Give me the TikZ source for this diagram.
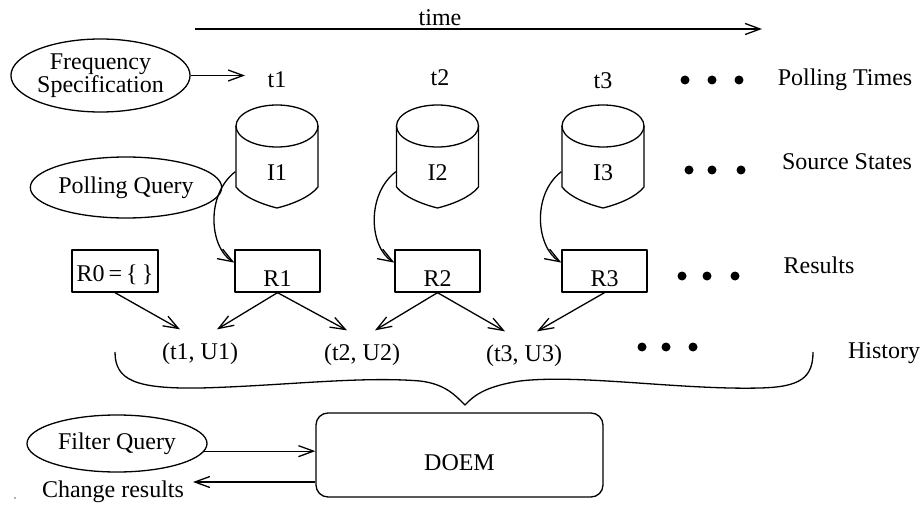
\documentclass[tikz,border=0pt]{standalone}
\usepackage{fontspec}
\setmainfont{Liberation Serif}
\usetikzlibrary{shapes.geometric,arrows.meta,calc}
\newcommand\mkcyl[3]{%
  \node[cylbox] (#1) at (#2,156.5) {};
  \node (#1lab) at (#2,173) {#3};
  \draw (#2,126) ellipse [x radius=41, y radius=21];
  \draw ({#2-41},126) -- ({#2-41},187) .. controls ({#2-33},197) and ({#2-16},204) .. (#2,208)
        .. controls ({#2+16},204) and ({#2+33},197) .. ({#2+41},187) -- ({#2+41},126);
}
\begin{document}
\begin{tikzpicture}[x=1pt,y=-1pt,line width=1.3pt,line join=round,
  >={Straight Barb[length=15pt,width=11pt]},
  every node/.style={font=\fontsize{24}{27}\selectfont, inner sep=0pt},
  oval/.style={draw, ellipse, inner sep=0pt},
  resbox/.style={draw, rectangle, minimum width=85pt, minimum height=42pt, text height=30pt, text depth=0pt},
  cylbox/.style={rectangle, minimum width=82pt, minimum height=103pt},
  hist/.style={text height=17pt, text depth=5pt, inner ysep=12pt}]
\useasboundingbox (0,0) rectangle (924,508);

% time axis
\coordinate (ts) at (195,29);
\coordinate (te) at (762,29);
\draw[->] (ts) -- (te);
\node (time) at (440,18) {time};

% frequency specification and polling times
\node[oval, minimum width=175pt, minimum height=73pt, align=center,
      font=\fontsize{24}{23}\selectfont] (FS) at (100.5,75.5) {Frequency\\Specification};
\node (t1) at (277,80) {t1};
\node (t2) at (440,78) {t2};
\node (t3) at (603,81) {t3};
\draw[->, shorten >=22pt] (FS.east) -- (FS.east -| t1.west);

% row labels
\node (pt)  at (845,80)  {Polling Times};
\node (ss)  at (847,162) {Source States};
\node (res) at (819,265) {Results};
\node (his) at (884,353) {History};

% polling query
\node[oval, minimum width=172pt, minimum height=61pt] (PQ) at (126,187.5) {Polling Query};

% source states
\mkcyl{I1}{277}{I1}
\mkcyl{I2}{437.5}{I2}
\mkcyl{I3}{603}{I3}

% results
\node[draw, minimum width=86pt, minimum height=42pt, text height=20pt, text depth=0pt] (R0) at (115,271) {R0\,=\,\{\,\}};
\node[resbox] (R1) at (277.5,271) {R1};
\node[resbox] (R2) at (437.5,271) {R2};
\node[resbox] (R3) at (604.5,271) {R3};

\draw[->] (I1.200) .. controls +(-30,23) and +(-25,-15) .. (R1.169);
\draw[->] (I2.200) .. controls +(-30,23) and +(-25,-15) .. (R2.169);
\draw[->] (I3.200) .. controls +(-30,23) and +(-25,-15) .. (R3.169);

% history
\node[hist] (u1) at (200,353) {(t1, U1)};
\node[hist] (u2) at (362,354) {(t2, U2)};
\node[hist] (u3) at (524,355) {(t3, U3)};

\draw[->] (R0.south) -- ([xshift=-20pt]u1.north);
\draw[->] (R1.south) -- ([xshift=17pt]u1.north);
\draw[->] (R1.south) -- ([xshift=-15pt]u2.north);
\draw[->] (R2.south) -- ([xshift=13pt]u2.north);
\draw[->] (R2.south) -- ([xshift=-19pt]u3.north);
\draw[->] (R3.south) -- ([xshift=13pt]u3.north);

% ellipsis dots
\foreach \x/\y in {685/80,712/80,739/80, 689/170,712/170,741/170,
                   682/276,707/276,735/276, 642/347,666/347,693/347}
  \fill (\x,\y) circle[radius=4.5];

% brace
\draw (115,352) .. controls (115,380) and (135,389) .. (200,388)
  .. controls (280,386) and (360,376) .. (420,381)
  .. controls (445,384) and (455,395) .. (465,405)
  .. controls (475,394) and (488,386) .. (520,381)
  .. controls (580,374) and (680,390) .. (760,388)
  .. controls (800,387) and (813,378) .. (813,352);

% DOEM
\node[draw, rounded corners=12pt, minimum width=287pt, minimum height=84pt,
      text height=30pt, text depth=0pt] (DOEM) at (459.5,455) {DOEM};
\node[oval, minimum width=180pt, minimum height=57pt] (FQ) at (117,443.5) {Filter Query};
\draw[->] (FQ.-5) -- (FQ.-5 -| DOEM.west);
\node (cr) at (113,492) {Change results};
\coordinate (crend) at (193,482);
\draw[->] (DOEM.west |- crend) -- (crend);

\fill[black!60] (15,498) circle[radius=0.8];
\end{tikzpicture}
\end{document}
